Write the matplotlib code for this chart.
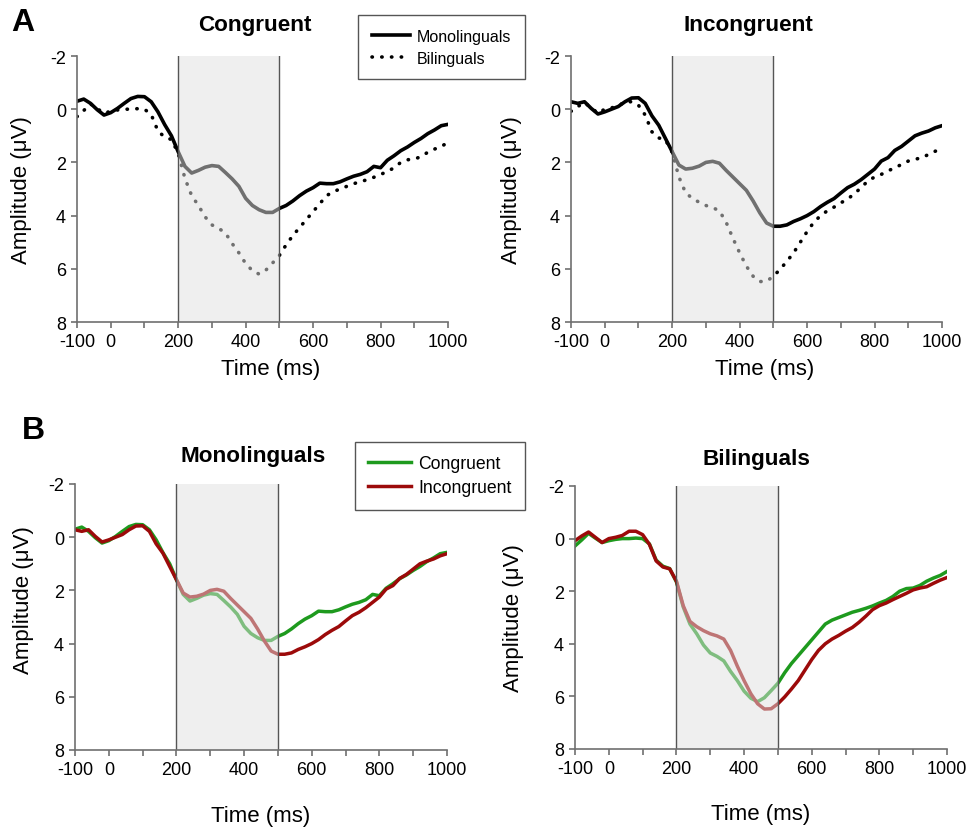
import matplotlib.pyplot as plt
import numpy as np

plt.rcParams['font.family'] = ['Liberation Sans', 'DejaVu Sans']
plt.rcParams['axes.unicode_minus'] = False

# time axis (ms), sampled every 20 ms
time_ms = np.arange(-100, 1001, 20)

# grand-average amplitudes (uV)
mono_congruent = [-0.30, -0.38, -0.22, 0.02, 0.22, 0.13, -0.03, -0.22, -0.40, -0.48,
                  -0.47, -0.28, 0.10, 0.58, 1.00, 1.60, 2.15, 2.40, 2.30, 2.18,
                  2.12, 2.15, 2.38, 2.62, 2.90, 3.35, 3.62, 3.78, 3.88, 3.88,
                  3.73, 3.62, 3.45, 3.25, 3.08, 2.95, 2.78, 2.80, 2.80, 2.73,
                  2.62, 2.52, 2.45, 2.35, 2.15, 2.20, 1.92, 1.75, 1.56, 1.42,
                  1.25, 1.10, 0.92, 0.78, 0.62, 0.57]
mono_incongruent = [-0.28, -0.22, -0.28, -0.03, 0.18, 0.10, 0.00, -0.10, -0.28, -0.42,
                    -0.43, -0.22, 0.25, 0.60, 1.10, 1.60, 2.10, 2.25, 2.22, 2.14,
                    2.00, 1.96, 2.03, 2.30, 2.55, 2.80, 3.05, 3.45, 3.90, 4.28,
                    4.40, 4.40, 4.35, 4.22, 4.12, 4.00, 3.85, 3.66, 3.50, 3.36,
                    3.15, 2.95, 2.82, 2.65, 2.45, 2.25, 1.95, 1.82, 1.55, 1.40,
                    1.20, 1.00, 0.90, 0.82, 0.70, 0.62]
bi_congruent = [0.28, 0.05, -0.20, -0.02, 0.15, 0.08, 0.03, 0.00, 0.00, -0.02,
                0.00, 0.20, 0.82, 1.05, 1.14, 1.65, 2.60, 3.25, 3.62, 4.05,
                4.35, 4.48, 4.65, 5.05, 5.40, 5.80, 6.07, 6.20, 6.05, 5.78,
                5.50, 5.10, 4.75, 4.45, 4.15, 3.85, 3.55, 3.25, 3.10, 3.00,
                2.90, 2.80, 2.73, 2.65, 2.56, 2.45, 2.35, 2.20, 2.00, 1.90,
                1.88, 1.78, 1.62, 1.50, 1.40, 1.25]
bi_incongruent = [0.08, -0.10, -0.25, -0.05, 0.15, 0.00, -0.05, -0.12, -0.28, -0.28,
                  -0.15, 0.22, 0.85, 1.08, 1.15, 1.62, 2.55, 3.15, 3.35, 3.50,
                  3.62, 3.70, 3.82, 4.25, 4.85, 5.40, 5.90, 6.28, 6.48, 6.47,
                  6.28, 6.02, 5.72, 5.40, 5.00, 4.60, 4.25, 4.00, 3.82, 3.68,
                  3.52, 3.38, 3.18, 2.95, 2.70, 2.55, 2.45, 2.32, 2.20, 2.08,
                  1.95, 1.88, 1.83, 1.70, 1.58, 1.48]

window = (200, 500)
xtick_labels = ['-100', '0', '', '200', '', '400', '', '600', '', '800', '', '1000']
ytick_vals = [-2, 0, 2, 4, 6, 8]

GREEN = '#1e9a1e'
RED = '#9c0a0a'
DOTTED = (0, (0.1, 2.6))


def style_axis(ax):
    ax.set_xlim(-100, 1000)
    ax.set_ylim(8, -2)
    ax.set_xticks(np.arange(-100, 1001, 100))
    ax.set_xticklabels(xtick_labels)
    ax.set_yticks(ytick_vals)
    for s in ['top', 'right']:
        ax.spines[s].set_visible(False)
    for s in ['left', 'bottom']:
        ax.spines[s].set_color('#707070')
        ax.spines[s].set_linewidth(1.2)
        ax.spines[s].set_zorder(6)
    ax.tick_params(direction='out', length=4, width=1.2, color='#707070',
                   labelsize=13, pad=4)
    # shaded analysis window drawn over the waves (fades them)
    ax.axvspan(window[0], window[1], facecolor=(0.88, 0.88, 0.88), alpha=0.5,
               zorder=4, lw=0)
    for xv in window:
        ax.axvline(xv, color='#555555', lw=1.0, zorder=5)


fig = plt.figure(figsize=(9.73, 8.37), dpi=100)
W, H = 973.0, 837.0


def add_ax(x0, x1, y0, y1):
    return fig.add_axes([x0 / W, 1 - y1 / H, (x1 - x0) / W, (y1 - y0) / H])


ax1 = add_ax(77, 448, 57, 323)
ax2 = add_ax(571, 942, 57, 323)
ax3 = add_ax(75, 447, 485, 751)
ax4 = add_ax(575, 947, 487, 750)

# A: groups compared within condition
h_mono, = ax1.plot(time_ms, mono_congruent, color='black', lw=2.6, zorder=3)
h_bi, = ax1.plot(time_ms, bi_congruent, color='black', lw=2.6, ls=DOTTED,
                 dash_capstyle='round', zorder=3)
ax2.plot(time_ms, mono_incongruent, color='black', lw=2.6, zorder=3)
ax2.plot(time_ms, bi_incongruent, color='black', lw=2.6, ls=DOTTED,
         dash_capstyle='round', zorder=3)

# B: conditions compared within group
h_con, = ax3.plot(time_ms, mono_congruent, color=GREEN, lw=2.5, zorder=3)
h_inc, = ax3.plot(time_ms, mono_incongruent, color=RED, lw=2.5, zorder=3)
ax4.plot(time_ms, bi_congruent, color=GREEN, lw=2.5, zorder=3)
ax4.plot(time_ms, bi_incongruent, color=RED, lw=2.5, zorder=3)

for ax in [ax1, ax2, ax3, ax4]:
    style_axis(ax)


def ftext(x, y, s, **kw):
    fig.text(x / W, 1 - y / H, s, ha='center', va='center', **kw)


ftext(23, 23, 'A', fontsize=23, fontweight='bold')
ftext(33, 431, 'B', fontsize=23, fontweight='bold')

ftext(255, 25, 'Congruent', fontsize=16.2, fontweight='bold')
ftext(748, 25, 'Incongruent', fontsize=16.2, fontweight='bold')
ftext(253, 457, 'Monolinguals', fontsize=16.2, fontweight='bold')
ftext(756, 460, 'Bilinguals', fontsize=16.2, fontweight='bold')

for x, y in [(271, 370), (765, 370), (261, 817), (761, 815)]:
    ftext(x, y, 'Time (ms)', fontsize=16)
for x, y in [(22, 190), (512, 190), (24, 600), (514, 618)]:
    ftext(x, y, 'Amplitude (μV)', fontsize=16, rotation=90)

leg_kw = dict(loc='upper left', fancybox=False, framealpha=1,
              edgecolor='#555555', handlelength=2.4,
              handletextpad=0.45, borderaxespad=0)
leg1 = fig.legend([h_mono, h_bi], ['Monolinguals', 'Bilinguals'], fontsize=11.5,
                  borderpad=0.85, labelspacing=0.45,
                  bbox_to_anchor=(358 / W, 1 - 16 / H), **leg_kw)
leg2 = fig.legend([h_con, h_inc], ['Congruent', 'Incongruent'], fontsize=12.7,
                  borderpad=0.75, labelspacing=0.4,
                  bbox_to_anchor=(355 / W, 1 - 443 / H), **leg_kw)
for leg in [leg1, leg2]:
    leg.get_frame().set_linewidth(1.0)

fig.savefig('out.png', dpi=100)
